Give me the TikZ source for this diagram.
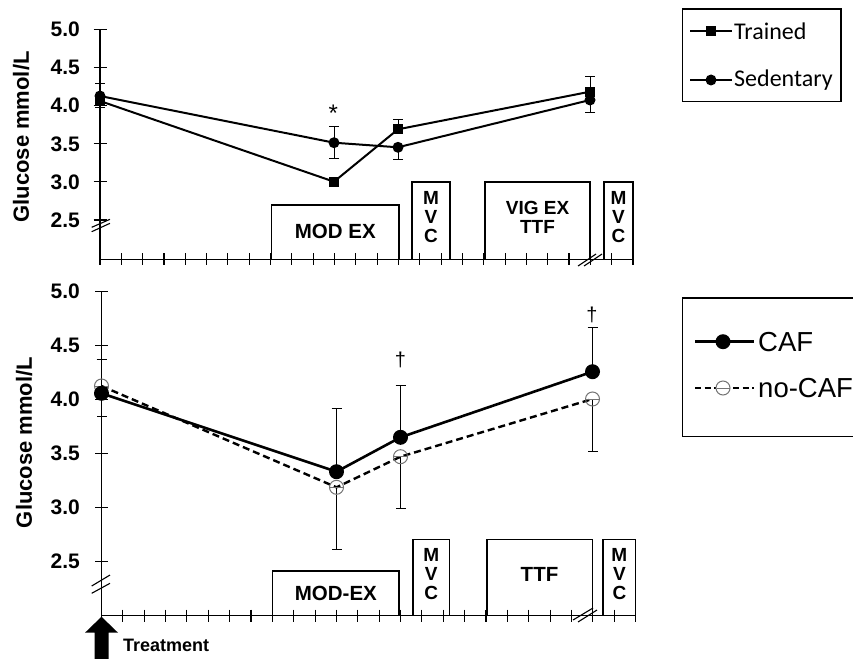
\documentclass[tikz,border=0pt]{standalone}
\usepackage{fontspec}
\setmainfont{Liberation Sans}
\newfontfamily\calibri{Carlito}
\usetikzlibrary{positioning}
\usetikzlibrary{arrows.meta}

\tikzset{
  axis/.style={line width=1.1pt},
  breakline/.style={line width=1.1pt},
  ticklab/.style={anchor=east, inner sep=0pt, font=\bfseries\fontsize{21}{21}\selectfont},
  ylab/.style={rotate=90, inner sep=0pt, font=\bfseries\fontsize{22}{22}\selectfont},
  exbox/.style={draw, line width=1.3pt, inner sep=0pt},
  exlab/.style={inner sep=0pt, font=\bfseries\fontsize{20.5}{20.5}\selectfont},
  stacklab/.style={inner sep=0pt, font=\bfseries\fontsize{19}{19}\selectfont},
  legbox/.style={line width=1.1pt},
  errbar/.style={line width=1pt, -{Bar[width=10pt, line width=1pt]}},
  topline/.style={line width=2pt},
  cafline/.style={line width=2.6pt},
  nocafline/.style={line width=2.4pt, dash pattern=on 7pt off 4pt},
  sqmark/.style={fill=black, minimum size=10pt, inner sep=0pt},
  dotmark/.style={circle, fill=black, minimum size=11pt, inner sep=0pt},
  cafmark/.style={circle, fill=black, minimum size=15pt, inner sep=0pt},
  nocafmark/.style={circle, draw=black!55, line width=1pt, minimum size=14pt, inner sep=0pt},
  note/.style={inner sep=0pt, font=\fontsize{20}{20}\selectfont}
}

\begin{document}
\begin{tikzpicture}[x=1pt, y=-1pt]
\useasboundingbox (0,0) rectangle (853,658);

% ---- top panel: trained vs sedentary
\draw[axis] (100,29.3) -- (100,259.3) -- (633,259.3);
\foreach \y/\v in {29.3/5.0, 67.5/4.5, 105.6/4.0, 143.8/3.5, 181.9/3.0, 220/2.5} {
  \draw[axis] (93.5,\y) -- (106.5,\y);
  \node[ticklab] at (80,\y) {\v};
}
\foreach \i in {0,...,25}
  \draw[axis] ({100+21.32*\i},253.3) -- ++(0,12);
\draw[breakline] (91.7,231.7) -- (110,223.3) (91.7,227.3) -- (110,219.3);
\draw[breakline] (578,266) -- (596,254) (584,266) -- (602,254);
\node[ylab] (ylab_top) at (21,137) {Glucose mmol/L};

\node[exbox, minimum width=127.3pt, minimum height=54.3pt] (modex_top) at (335.3,232.2) {};
\node[exbox, minimum width=38pt, minimum height=77.3pt] (mvc_top_1) at (431,220.7) {};
\node[exbox, minimum width=105pt, minimum height=77.3pt] (vig_top) at (537.5,220.7) {};
\node[exbox, minimum width=29pt, minimum height=77.3pt] (mvc_top_2) at (618.5,220.7) {};
\node[exlab] at (335.3,231) {MOD EX};
\node[stacklab] at ([yshift=-26.5pt]vig_top.north) {VIG EX};
\node[stacklab] at ([yshift=-45.5pt]vig_top.north) {TTF};

\coordinate (tr_0) at (100,101);
\coordinate (tr_1) at (334,181.7);
\coordinate (tr_2) at (398,129.3);
\coordinate (tr_3) at (590,91.7);
\coordinate (sed_0) at (100,96);
\coordinate (sed_1) at (334,142.7);
\coordinate (sed_2) at (398,147.3);
\coordinate (sed_3) at (590,100);

\draw[errbar] (sed_0) -- ++(0,-12.7);
\draw[errbar] (tr_0) -- ++(0,7.3);
\draw[errbar] (sed_1) -- ++(0,-16.7);
\draw[errbar] (sed_1) -- ++(0,16.6);
\draw[errbar] (tr_2) -- ++(0,-10);
\draw[errbar] (sed_2) -- ++(0,12.7);
\draw[errbar] (tr_3) -- ++(0,-15.7);
\draw[errbar] (sed_3) -- ++(0,12.7);

\draw[topline] (tr_0) -- (tr_1) -- (tr_2) -- (tr_3);
\draw[topline] (sed_0) -- (sed_1) -- (sed_2) -- (sed_3);
\foreach \p in {tr_0, tr_1, tr_2, tr_3}
  \node[sqmark] at (\p) {};
\foreach \p in {sed_0, sed_1, sed_2, sed_3}
  \node[dotmark] at (\p) {};
\node[note, font=\fontsize{24}{24}\selectfont] (star) at (333.3,113) {*};

% top legend
\draw[legbox] (682.7,9) rectangle (841,101.7);
\coordinate (leg_tr_a) at (690,31);
\coordinate (leg_tr_b) at (732,31);
\coordinate (leg_sed_a) at (690,80);
\coordinate (leg_sed_b) at (732,80);
\draw[topline] (leg_tr_a) -- (leg_tr_b);
\draw[topline] (leg_sed_a) -- (leg_sed_b);
\node[sqmark] at (711,31) {};
\node[dotmark] at (711,80) {};
\node[anchor=west, inner sep=2pt, font=\calibri\fontsize{24}{24}\selectfont] at (leg_tr_b) {Trained};
\node[anchor=west, inner sep=2pt, font=\calibri\fontsize{24}{24}\selectfont] at (leg_sed_b) {Sedentary};

% ---- bottom panel: CAF vs no-CAF
\draw[axis] (101.5,291.7) -- (101.5,615.5) -- (635.5,615.5);
\foreach \y/\v in {291.7/5.0, 345.7/4.5, 399.5/4.0, 453.5/3.5, 507.7/3.0, 561.7/2.5} {
  \draw[axis] (95,\y) -- (108,\y);
  \node[ticklab] at (80,\y) {\v};
}
\foreach \i in {0,...,25}
  \draw[axis] ({101.5+21.36*\i},609.5) -- ++(0,12);
\draw[breakline] (91.7,586) -- (110,575) (91.7,593.3) -- (110,583.3);
\draw[breakline] (573,620) -- (593,608) (578,622) -- (597,610);
\node[ylab] (ylab_bot) at (24,442.5) {Glucose mmol/L};

\node[exbox, minimum width=126.3pt, minimum height=44.5pt] (modex_bot) at (335.9,593.3) {};
\node[exbox, minimum width=36.3pt, minimum height=76.2pt] (mvc_bot_1) at (431.2,577.4) {};
\node[exbox, minimum width=105.7pt, minimum height=76.2pt] (ttf_bot) at (539.9,577.4) {};
\node[exbox, minimum width=32.7pt, minimum height=76.2pt] (mvc_bot_2) at (619.4,577.4) {};
\node[exlab] at (335.9,593) {MOD-EX};
\node[exlab] at (539.5,574.4) {TTF};

% M V C letters stacked in the four small boxes
\foreach \b in {mvc_top_1, mvc_top_2, mvc_bot_1, mvc_bot_2}
  \foreach \l/\d in {M/16.5, V/35.5, C/54.5}
    \node[stacklab] at ([yshift=-\d pt]\b.north) {\l};

\coordinate (caf_0) at (101.5,393.3);
\coordinate (caf_1) at (336.5,471.7);
\coordinate (caf_2) at (400.5,437.3);
\coordinate (caf_3) at (592.5,371.7);
\coordinate (nocaf_0) at (101.5,386);
\coordinate (nocaf_1) at (336.5,487.3);
\coordinate (nocaf_2) at (400.5,456.7);
\coordinate (nocaf_3) at (592.5,399);

\draw[errbar] (caf_0) -- ++(0,-34.3);
\draw[errbar] (nocaf_0) -- ++(0,30.7);
\draw[errbar] (caf_1) -- ++(0,-63.4);
\draw[errbar] (nocaf_1) -- ++(0,62.7);
\draw[errbar] (caf_2) -- ++(0,-52.3);
\draw[errbar] (nocaf_2) -- ++(0,52.6);
\draw[errbar] (caf_3) -- ++(0,-45);
\draw[errbar] (nocaf_3) -- ++(0,52.7);

\draw[nocafline] (nocaf_0) -- (nocaf_1) -- (nocaf_2) -- (nocaf_3);
\draw[cafline] (caf_0) -- (caf_1) -- (caf_2) -- (caf_3);
\foreach \p in {nocaf_0, nocaf_1, nocaf_2, nocaf_3} {
  \node[nocafmark] at (\p) {};
  \draw[black!55, line width=1pt] (\p) ++(-6.5,0) -- ++(13,0);
}
\foreach \p in {caf_0, caf_1, caf_2, caf_3}
  \node[cafmark] at (\p) {};
\node[note] (dag_1) at (400.5,359.5) {\dag};
\node[note] (dag_2) at (592,315) {\dag};

% treatment arrow
\fill (85,632.7) -- (101.5,616.7) -- (118,632.7) -- (108.5,632.7) -- (108.5,660) -- (94.5,660) -- (94.5,632.7) -- cycle;
\node[anchor=west, inner sep=0pt, font=\bfseries\fontsize{18}{18}\selectfont] (treat) at (123,645) {Treatment};

% bottom legend
\draw[legbox] (855,298) -- (682.7,298) -- (682.7,436.7) -- (855,436.7);
\coordinate (leg_caf_a) at (695,341.7);
\coordinate (leg_caf_b) at (754,341.7);
\coordinate (leg_nocaf_a) at (695,388);
\coordinate (leg_nocaf_b) at (754,388);
\draw[cafline] (leg_caf_a) -- (leg_caf_b);
\draw[nocafline, dash pattern=on 6pt off 3.5pt] (leg_nocaf_a) -- (leg_nocaf_b);
\node[cafmark] at (723,341.7) {};
\node[nocafmark, fill=white] at (723,388) {};
\draw[black!55, line width=1pt] (716.5,388) -- (729.5,388);
\node[anchor=west, inner sep=4pt, font=\fontsize{27.5}{27.5}\selectfont] at (leg_caf_b) {CAF};
\node[anchor=west, inner sep=4pt, font=\fontsize{27.5}{27.5}\selectfont] at (leg_nocaf_b) {no-CAF};
\end{tikzpicture}
\end{document}
